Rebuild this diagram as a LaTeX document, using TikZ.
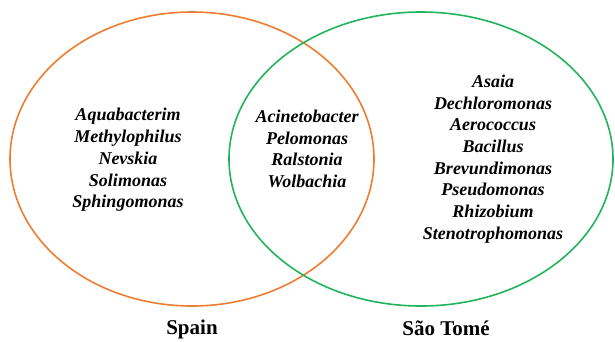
\documentclass[tikz,border=0pt]{standalone}
\usepackage{fontspec}
\setmainfont{Liberation Serif}
\definecolor{spainorange}{RGB}{237,125,49}
\definecolor{saogreen}{RGB}{34,180,90}
\begin{document}
\begin{tikzpicture}[x=1pt,y=-1pt,
  setring/.style={line width=1.6pt},
  genus/.style={align=center,font=\fontsize{18}{21.7}\selectfont\bfseries\itshape,inner sep=0pt},
  setlabel/.style={font=\fontsize{21}{24}\selectfont\bfseries,inner sep=0pt}]
\useasboundingbox (0,0) rectangle (615,341);
\draw[setring,spainorange] (192,159) ellipse [x radius=182, y radius=147];
\draw[setring,saogreen] (421,159) ellipse [x radius=192, y radius=147];
\node[genus] (spainonly) at (128,160) {Aquabacterim\\Methylophilus\\Nevskia\\Solimonas\\Sphingomonas};
\node[genus] (shared) at (307,149) {Acinetobacter\\Pelomonas\\Ralstonia\\Wolbachia};
\node[genus] (saoonly) at (493,159) {Asaia\\Dechloromonas\\Aerococcus\\Bacillus\\Brevundimonas\\Pseudomonas\\Rhizobium\\Stenotrophomonas};
\node[setlabel] (spainlabel) at (192,329) {Spain};
\node[setlabel] (saolabel) at (446,328) {São Tomé};
\end{tikzpicture}
\end{document}
